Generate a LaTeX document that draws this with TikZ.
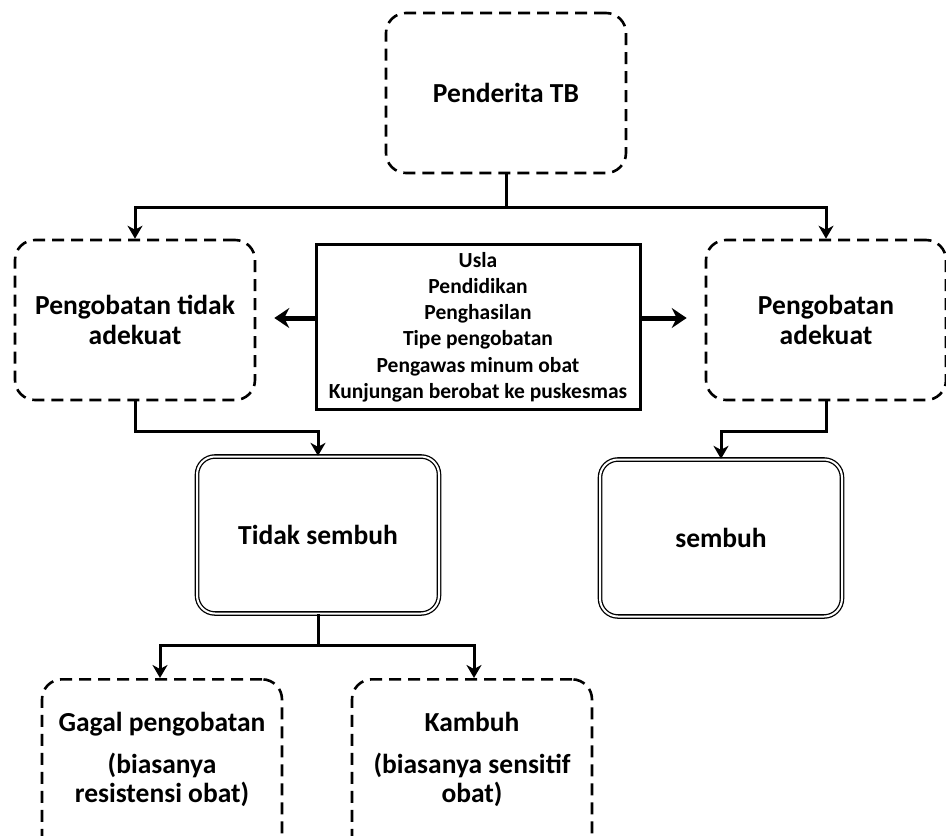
\documentclass[tikz,border=0pt]{standalone}
\usepackage{fontspec}
\setmainfont{Carlito}
\usetikzlibrary{positioning,calc,arrows.meta}

\tikzset{
  boxfont/.style={font=\fontsize{27.5}{30}\selectfont\bfseries},
  dashbox/.style={draw, line width=2.6pt, dash pattern=on 12pt off 7pt,
    rounded corners=20pt, minimum width=240pt, minimum height=160pt,
    align=center, boxfont},
  dblbox/.style={draw, double, line width=1.3pt, double distance=2pt,
    rounded corners=18pt, minimum width=242pt, minimum height=157pt,
    align=center, boxfont},
  factorbox/.style={draw, line width=3pt, minimum width=324pt, minimum height=165pt,
    align=center, font=\fontsize{21.5}{26.2}\selectfont\bfseries},
  link/.style={line width=3pt},
  conn/.style={link, -{Stealth[length=13pt,width=15pt,inset=4pt]}},
  sidearrow/.style={line width=5pt, -{Stealth[length=15pt,width=20pt,inset=5pt]}, shorten >=18pt}
}

\newcommand{\lowtext}[1]{\parbox[c][190pt][t]{230pt}{\centering\fontsize{27.5}{29}\selectfont\vspace*{8pt}#1}}

\begin{document}
\begin{tikzpicture}[x=1pt, y=-1pt]
  \useasboundingbox (0,0) rectangle (946,836);

  % upper row
  \node[dashbox] (penderita) at (506,93) {Penderita TB};
  \node[dashbox] (tidakadekuat) at (135,320) {Pengobatan tidak\\adekuat};
  \node[dashbox] (adekuat) at (826,320) {Pengobatan\\adekuat};
  \node[factorbox] (factor) at (478,327) {Usla\\Pendidikan\\Penghasilan\\Tipe pengobatan\\Pengawas minum obat\\Kunjungan berobat ke puskesmas};

  % outcomes
  \node[dblbox] (tidaksembuh) at (318,535) {Tidak sembuh};
  \node[dblbox] (sembuh) at (721,538) {sembuh};

  % lower row, cut off at the bottom edge
  \node[dashbox, anchor=north, inner sep=5pt, minimum height=240pt] (gagal) at (162,678)
    {\lowtext{Gagal pengobatan\\[13pt] (biasanya\\ resistensi obat)}};
  \node[dashbox, anchor=north, inner sep=5pt, minimum height=240pt] (kambuh) at (472,678)
    {\lowtext{Kambuh\\[13pt] (biasanya sensitif\\ obat)}};

  % connectors
  \coordinate (split) at (506,207);
  \draw[link] (penderita.south) -- (split);
  \draw[conn] (split) -| (tidakadekuat.north);
  \draw[conn] (split) -| (adekuat.north);

  \draw[sidearrow] ([yshift=9pt]factor.west) -- ([yshift=9pt]factor.west -| tidakadekuat.east);
  \draw[sidearrow] ([yshift=9pt]factor.east) -- ([yshift=9pt]factor.east -| adekuat.west);

  \draw[conn] (tidakadekuat.south) -- ++(0,30) -| (tidaksembuh.north);
  \draw[conn] (adekuat.south) -- ++(0,30) -| (sembuh.north);

  \coordinate (fork) at (318,645);
  \draw[link] (tidaksembuh.south) -- (fork);
  \draw[conn] (fork) -| ([xshift=-2pt]gagal.north);
  \draw[conn] (fork) -| ([xshift=2pt]kambuh.north);
\end{tikzpicture}
\end{document}
